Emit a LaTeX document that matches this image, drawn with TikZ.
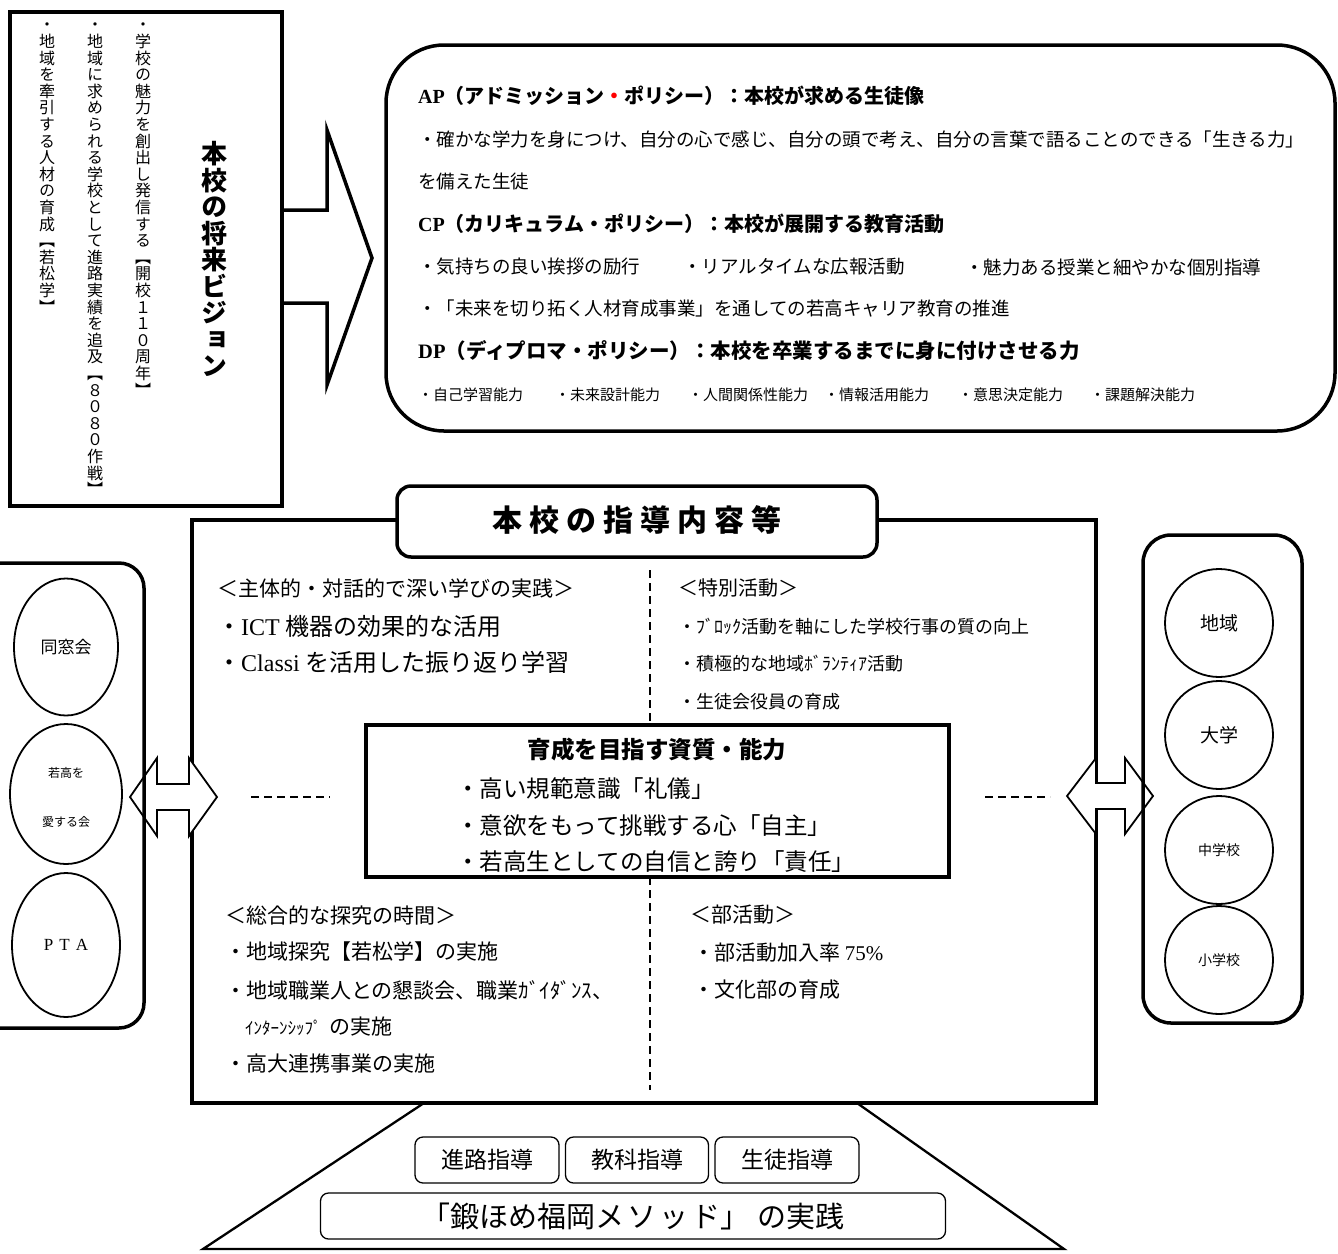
\documentclass[tikz,border=0pt]{standalone}
\usepackage{fontspec}
\setmainfont{Noto Sans CJK JP}
\newfontfamily\lat{Liberation Serif}
\newfontfamily\vjp{Noto Sans CJK JP}[RawFeature={+vert}]
\usetikzlibrary{shapes.geometric}
\newcommand\fs[1]{\fontsize{#1}{#1}\selectfont}
\newlength\vpitch
\def\vtloop#1{\ifx\relax#1\else\hbox to 1.4em{\hss\raisebox{0pt}[\vpitch][0pt]{#1}\hss}\expandafter\vtloop\fi}
\newcommand\vtext[2]{\setlength\vpitch{#1}\vbox{\offinterlineskip\vtloop#2\relax}}
\begin{document}
\begin{tikzpicture}[x=1pt,y=-1pt,
  thk/.style={line width=3.5pt},
  txt/.style={anchor=west,inner sep=0pt},
  vt/.style={anchor=north,inner sep=0pt},
  dsh/.style={line width=1.8pt,dash pattern=on 8pt off 5pt},
  ell/.style={draw,ellipse,line width=1.8pt,inner sep=0pt},
  circ/.style={draw,circle,line width=1.8pt,minimum size=108pt,inner sep=0pt},
  sbox/.style={draw,rounded corners=8pt,line width=1.3pt,minimum height=46pt,inner sep=0pt},
  dblarrow/.style={line width=1.8pt,fill=white,line join=miter}
]
\useasboundingbox (0,0) rectangle (1338,1253);

% ---------- top-left vision box ----------
\draw[thk] (10,12) rectangle (282,506);
\node[vt,font=\vjp\fs{16}] (v1) at (143,14) {\vtext{16.6pt}{・学校の魅力を創出し発信する︻開校１１０周年︼}};
\node[vt,font=\vjp\fs{16}] (v2) at (95,14) {\vtext{16.6pt}{・地域に求められる学校として進路実績を追及︻８０８０作戦︼}};
\node[vt,font=\vjp\fs{16}] (v3) at (47,14) {\vtext{16.6pt}{・地域を牽引する人材の育成︻若松学︼}};
\node[vt,font=\vjp\fs{26}\bfseries] (vh) at (214,137) {\vtext{26.5pt}{本校の将来ビジョン}};
\draw[thk,line join=miter] (282,210) -- (327,210) -- (327,130) -- (372,258) -- (327,385) -- (327,303) -- (282,303);

% ---------- top-right policy box ----------
\draw[thk,rounded corners=58pt] (386,45) rectangle (1335,431);
\node[txt,font=\fs{20}\bfseries] (ap) at (418,96) {{\lat AP}（アドミッション\textcolor{red}{・}ポリシー）：本校が求める生徒像};
\node[txt,font=\fs{18.5}] (ap1) at (418,139) {・確かな学力を身につけ、自分の心で感じ、自分の頭で考え、自分の言葉で語ることのできる「生きる力」};
\node[txt,font=\fs{18.5}] (ap2) at (418,181) {を備えた生徒};
\node[txt,font=\fs{20}\bfseries] (cp) at (418,224) {{\lat CP}（カリキュラム・ポリシー）：本校が展開する教育活動};
\node[txt,font=\fs{18.5}] (cp1) at (418,267) {・気持ちの良い挨拶の励行};
\node[txt,font=\fs{18.5}] (cp2) at (683,267) {・リアルタイムな広報活動};
\node[txt,font=\fs{18.5}] (cp3) at (965,267) {・魅力ある授業と細やかな個別指導};
\node[txt,font=\fs{18.5}] (cp4) at (418,309) {・「未来を切り拓く人材育成事業」を通しての若高キャリア教育の推進};
\node[txt,font=\fs{20.5}\bfseries] (dp) at (418,351) {{\lat DP}（ディプロマ・ポリシー）：本校を卒業するまでに身に付けさせる力};
\node[txt,font=\fs{15}] (dp1) at (418,395) {・自己学習能力};
\node[txt,font=\fs{15}] (dp2) at (555,395) {・未来設計能力};
\node[txt,font=\fs{15}] (dp3) at (688,395) {・人間関係性能力};
\node[txt,font=\fs{15}] (dp4) at (824,395) {・情報活用能力};
\node[txt,font=\fs{15}] (dp5) at (958,395) {・意思決定能力};
\node[txt,font=\fs{15}] (dp6) at (1090,395) {・課題解決能力};

% ---------- main box ----------
\draw[thk] (192,520) rectangle (1096,1103);
\draw[thk,fill=white,rounded corners=14pt] (397,486) rectangle (877,557);
\node[font=\fs{30}\bfseries,inner sep=0pt] (ttl) at (637,520) {本\hspace{7pt}校\hspace{7pt}の\hspace{7pt}指\hspace{7pt}導\hspace{7pt}内\hspace{7pt}容\hspace{7pt}等};

\draw[dsh] (650,570) -- (650,725);
\draw[dsh] (650,877) -- (650,1090);

\node[txt,font=\fs{21}] (l1) at (217,588) {＜主体的・対話的で深い学びの実践＞};
\node[txt,font=\fs{24}] (l2) at (217,626) {・{\lat ICT} 機器の効果的な活用};
\node[txt,font=\fs{24}] (l3) at (217,662) {・{\lat Classi} を活用した振り返り学習};

\node[txt,font=\fs{20}] (r1) at (678,588) {＜特別活動＞};
\node[txt,font=\fs{18}] (r2) at (678,627) {・ﾌﾞﾛｯｸ活動を軸にした学校行事の質の向上};
\node[txt,font=\fs{18}] (r3) at (678,664) {・積極的な地域ﾎﾞﾗﾝﾃｨｱ活動};
\node[txt,font=\fs{18}] (r4) at (678,702) {・生徒会役員の育成};

\draw[thk,fill=white] (366,725) rectangle (949,877);
\node[font=\fs{23.5}\bfseries,inner sep=0pt] (ct) at (657,750) {育成を目指す資質・能力};
\node[txt,font=\fs{23.5}] (c1) at (456,789) {・高い規範意識「礼儀」};
\node[txt,font=\fs{23.5}] (c2) at (456,826) {・意欲をもって挑戦する心「自主」};
\node[txt,font=\fs{23.5}] (c3) at (456,862) {・若高生としての自信と誇り「責任」};

\node[txt,font=\fs{21}] (s1) at (225,915) {＜総合的な探究の時間＞};
\node[txt,font=\fs{21}] (s2) at (225,952) {・地域探究【若松学】の実施};
\node[txt,font=\fs{21}] (s3) at (225,990) {・地域職業人との懇談会、職業ｶﾞｲﾀﾞﾝｽ、};
\node[txt,font=\fs{21}] (s4) at (245,1027) {{\fs{17}ｲﾝﾀｰﾝｼｯﾌﾟ}\hspace{8pt}の実施};
\node[txt,font=\fs{21}] (s5) at (225,1064) {・高大連携事業の実施};

\node[txt,font=\fs{21}] (b1) at (690,915) {＜部活動＞};
\node[txt,font=\fs{21}] (b2) at (693,953) {・部活動加入率 {\lat 75\%}};
\node[txt,font=\fs{21}] (b3) at (693,990) {・文化部の育成};

\draw[dsh] (251,797) -- (330,797);
\draw[dsh] (985,797) -- (1050,797);

% ---------- double arrows ----------
\draw[dblarrow] (130,797) -- (157,758) -- (157,784) -- (189,784) -- (189,758) -- (217,797) -- (189,836) -- (189,810) -- (157,810) -- (157,836) -- cycle;
\draw[dblarrow] (1067,796) -- (1096,758) -- (1096,783) -- (1125,783) -- (1125,758) -- (1153,796) -- (1125,834) -- (1125,809) -- (1096,809) -- (1096,834) -- cycle;

% ---------- left panel ----------
\draw[thk,rounded corners=25pt] (-30,563) rectangle (144,1028);
\node[ell,minimum width=104pt,minimum height=137pt,font=\fs{17}] (e1) at (66,647) {同窓会};
\node[ell,minimum width=112pt,minimum height=140pt] (e2) at (66,794) {};
\node[font=\fs{12},inner sep=0pt] (e2a) at (66,773) {若高を};
\node[font=\fs{12},inner sep=0pt] (e2b) at (66,822) {愛する会};
\node[ell,minimum width=108pt,minimum height=144pt,font=\lat\fs{17}] (e3) at (66,945) {P\hspace{6pt}T\hspace{6pt}A};

% ---------- right panel ----------
\draw[thk,rounded corners=28pt] (1143,535) rectangle (1302,1023);
\node[circ,font=\fs{19}] (k1) at (1219,623) {地域};
\node[circ,font=\fs{19}] (k2) at (1219,735) {大学};
\node[circ,font=\fs{14}] (k3) at (1219,850) {中学校};
\node[circ,font=\fs{14}] (k4) at (1219,960) {小学校};

% ---------- bottom trapezoid ----------
\draw[line width=2.3pt,line join=miter] (424,1103) -- (203,1249) -- (1064,1249) -- (857,1103);
\node[sbox,minimum width=144pt,font=\fs{23}] (m1) at (487,1160) {進路指導};
\node[sbox,minimum width=143pt,font=\fs{23}] (m2) at (637,1160) {教科指導};
\node[sbox,minimum width=144pt,font=\fs{23}] (m3) at (787,1160) {生徒指導};
\node[sbox,minimum width=625pt,font=\fs{29}] (m4) at (633,1216) {「鍛ほめ福岡メ\hspace{3pt}ソ\hspace{3pt}ッ\hspace{3pt}ド」\hspace{8pt}の実践};
\end{tikzpicture}
\end{document}
